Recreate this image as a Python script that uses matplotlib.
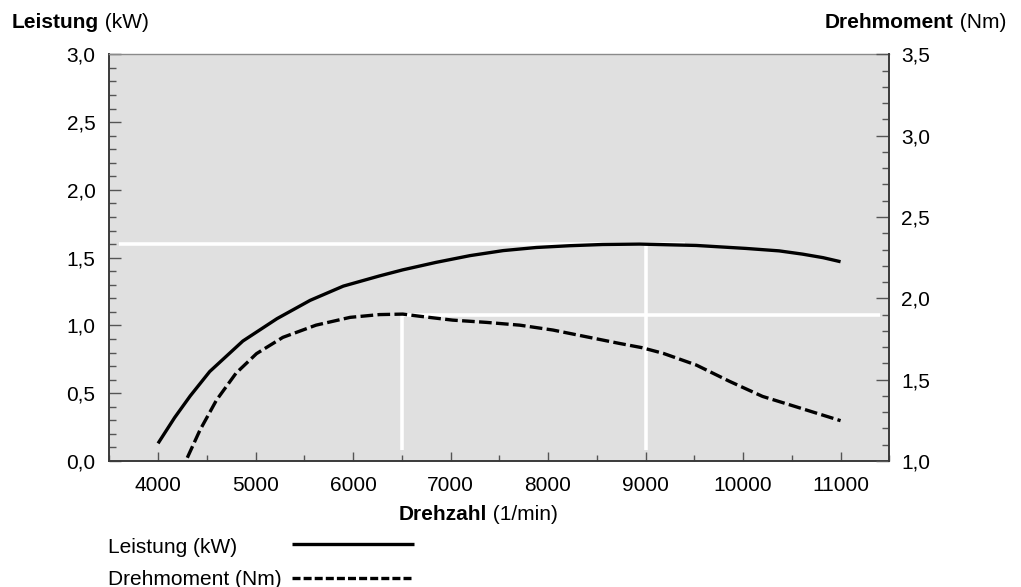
import matplotlib.pyplot as plt
from matplotlib.lines import Line2D
from matplotlib.ticker import MultipleLocator

plt.rcParams['font.family'] = ['Liberation Sans', 'DejaVu Sans']

# Leistung (kW) ueber Drehzahl
rpm_power = [4000, 4170, 4330, 4530, 4870, 5220, 5560, 5900, 6270, 6510, 6850, 7200,
             7540, 7880, 8220, 8560, 8940, 9520, 10030, 10370, 10610, 10820, 11000]
power = [0.13, 0.32, 0.48, 0.66, 0.885, 1.05, 1.185, 1.29, 1.365, 1.41, 1.465, 1.515,
         1.552, 1.575, 1.588, 1.597, 1.60, 1.59, 1.568, 1.55, 1.526, 1.50, 1.47]

# Drehmoment (Nm) ueber Drehzahl
rpm_torque = [4300, 4430, 4600, 4800, 5010, 5280, 5620, 5970, 6270, 6510, 6680,
              7020, 7370, 7710, 8050, 8390, 8730, 8960, 9180, 9520, 9860, 10200, 10540, 11000]
torque = [1.02, 1.19, 1.375, 1.54, 1.66, 1.76, 1.835, 1.883, 1.90, 1.903, 1.89,
          1.866, 1.852, 1.835, 1.805, 1.764, 1.723, 1.697, 1.662, 1.59, 1.49, 1.397, 1.334, 1.248]

# Markierungen der Maxima
rpm_pmax, pmax = 9000, 1.6
rpm_tmax, tmax = 6500, 1.9
pmax_line_x = [3600, 9400]
tmax_line_x = [6500, 11400]

x_ticks = [4000, 5000, 6000, 7000, 8000, 9000, 10000, 11000]
p_ticks = [0.0, 0.5, 1.0, 1.5, 2.0, 2.5, 3.0]
p_labels = ['0,0', '0,5', '1,0', '1,5', '2,0', '2,5', '3,0']
t_ticks = [1.0, 1.5, 2.0, 2.5, 3.0, 3.5]
t_labels = ['1,0', '1,5', '2,0', '2,5', '3,0', '3,5']

W, H = 1021, 587
fs = 15
lw = 2.4
dark = '#3a3a3a'
tickc = '#555555'

fig = plt.figure(figsize=(W / 100, H / 100), dpi=100)
ax = fig.add_axes([109.3 / W, 1 - 461 / H, 780 / W, 406.7 / H])
ax.set_facecolor('#e0e0e0')
ax.set_xlim(3500, 11500)
ax.set_ylim(0, 3.0)

ax2 = ax.twinx()
ax2.set_ylim(1.0, 3.5)

# weisse Hilfslinien
white_kw = dict(color='white', lw=2.6, zorder=1, solid_capstyle='butt')
ax.plot(pmax_line_x, [pmax, pmax], **white_kw)
ax.plot([rpm_pmax, rpm_pmax], [0.08, pmax], **white_kw)
ax2.plot(tmax_line_x, [tmax, tmax], **white_kw)
ax2.plot([rpm_tmax, rpm_tmax], [1.067, tmax], **white_kw)

ax.plot(rpm_power, power, color='black', lw=lw, zorder=3,
        solid_capstyle='butt', solid_joinstyle='round')
ax2.plot(rpm_torque, torque, color='black', lw=lw, zorder=3,
         dashes=(3.8, 1.3), dash_capstyle='butt', dash_joinstyle='round')

# Achsen
ax.set_xticks(x_ticks, labels=[str(v) for v in x_ticks])
ax.xaxis.set_minor_locator(MultipleLocator(500))
ax.set_yticks(p_ticks, labels=p_labels)
ax.yaxis.set_minor_locator(MultipleLocator(0.1))
ax2.set_yticks(t_ticks, labels=t_labels)
ax2.yaxis.set_minor_locator(MultipleLocator(0.1))

ax.tick_params(axis='x', which='major', direction='in', length=6.5, width=1,
               color=tickc, labelsize=fs, pad=11)
ax.tick_params(axis='x', which='minor', direction='in', length=4.3, width=1, color=tickc)
ax.tick_params(axis='y', which='major', direction='in', length=8.6, width=1,
               color=tickc, labelsize=fs, pad=10)
ax.tick_params(axis='y', which='minor', direction='in', length=5, width=1, color=tickc)
ax2.tick_params(axis='y', which='major', direction='in', length=9.4, width=1,
                color=tickc, labelsize=fs, pad=8.4)
ax2.tick_params(axis='y', which='minor', direction='in', length=5, width=1, color=tickc)

for s in ['left', 'bottom']:
    ax.spines[s].set_color(dark)
    ax.spines[s].set_linewidth(1.4)
ax.spines['top'].set_color('#8a8a8a')
ax.spines['top'].set_linewidth(1.0)
ax.spines['right'].set_visible(False)
for s in ['left', 'bottom', 'top']:
    ax2.spines[s].set_visible(False)
ax2.spines['right'].set_color(dark)
ax2.spines['right'].set_linewidth(1.4)

# Beschriftungen
t1 = fig.text(12 / W, 1 - 28 / H, 'Leistung', fontsize=fs, fontweight='bold', va='baseline')
ax.annotate(' (kW)', xy=(1, 0), xycoords=t1, fontsize=fs, va='bottom', ha='left',
            annotation_clip=False)

t2 = fig.text(1006 / W, 1 - 28 / H, ' (Nm)', fontsize=fs, va='baseline', ha='right')
ax.annotate('Drehmoment', xy=(0, 0), xycoords=t2, fontsize=fs, fontweight='bold',
            va='bottom', ha='right', annotation_clip=False)

fig.text(487 / W, 1 - 520 / H, 'Drehzahl', fontsize=fs, fontweight='bold',
         va='baseline', ha='right')
fig.text(487 / W, 1 - 520 / H, ' (1/min)', fontsize=fs, va='baseline', ha='left')

# Legende
fig.text(108 / W, 1 - 553 / H, 'Leistung (kW)', fontsize=fs, va='baseline')
fig.text(108 / W, 1 - 585 / H, 'Drehmoment (Nm)', fontsize=fs, va='baseline')
fig.add_artist(Line2D([292 / W, 414 / W], [1 - 544 / H] * 2, transform=fig.transFigure,
                      color='black', lw=lw, solid_capstyle='butt'))
fig.add_artist(Line2D([292 / W, 412 / W], [1 - 578 / H] * 2, transform=fig.transFigure,
                      color='black', lw=lw, dashes=(2.4, 0.93), dash_capstyle='butt'))

fig.savefig('out.png', dpi=100)
